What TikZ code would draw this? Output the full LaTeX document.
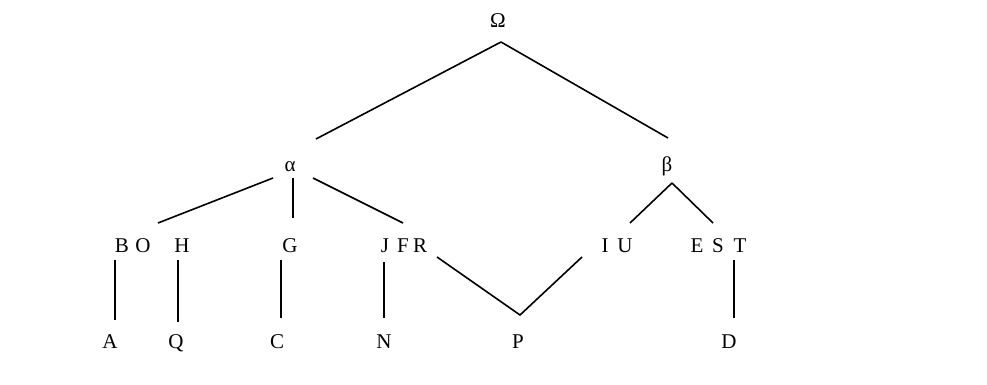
\documentclass[tikz,border=0pt]{standalone}
\usepackage{fontspec}
\setmainfont{Liberation Serif}
\usetikzlibrary{calc}

\tikzset{ms/.style={inner sep=0pt, anchor=base, font=\fontsize{21}{24}\selectfont}}

\begin{document}
\begin{tikzpicture}[x=1pt,y=-1pt,line width=1.6pt]
    \useasboundingbox (0,0) rectangle (987,385);
    % archetype and the two branches
    \node[ms] (Om) at (498,28) {Ω};
    \node[ms] (al) at (290,171) {α};
    \node[ms] (be) at (667,171) {β};
    % manuscripts, second level
    \node[ms] (B) at (122,252) {B};
    \node[ms] (O) at (143,252) {O};
    \node[ms] (H) at (182,252) {H};
    \node[ms] (G) at (290,252) {G};
    \node[ms] (J) at (385,252) {J};
    \node[ms] (F) at (403,252) {F};
    \node[ms] (R) at (420,252) {R};
    \node[ms] (I) at (605,252) {I};
    \node[ms] (U) at (625,252) {U};
    \node[ms] (E) at (697,252) {E};
    \node[ms] (S) at (718,252) {S};
    \node[ms] (T) at (740,252) {T};
    % copies, third level
    \node[ms] (A) at (110,348) {A};
    \node[ms] (Q) at (176,348) {Q};
    \node[ms] (C) at (277,348) {C};
    \node[ms] (N) at (384,348) {N};
    \node[ms] (P) at (518,348) {P};
    \node[ms] (D) at (729,348) {D};

    \draw ($(Om.base)+(3,14)$) -- ($(al.base)+(26,-32)$);
    \draw ($(Om.base)+(3,14)$) -- ($(be.base)+(1,-33)$);
    \draw ($(al.base)+(-17,7)$) -- ($(O.base)+(15,-29)$);
    \draw ($(al.base)+(3,7)$) -- ($(G.base)+(3,-34)$);
    \draw ($(al.base)+(23,7)$) -- ($(F.base)+(0,-29)$);
    \draw ($(be.base)+(5,12)$) -- ($(U.base)+(5,-29)$);
    \draw ($(be.base)+(5,12)$) -- ($(S.base)+(-5,-29)$);
    \draw ($(B.base)+(-7,8)$) -- ($(A.base)+(5,-28)$);
    \draw ($(H.base)+(-4,8)$) -- ($(Q.base)+(2,-26)$);
    \draw ($(G.base)+(-9,8)$) -- ($(C.base)+(4,-30)$);
    \draw ($(J.base)+(-1,10)$) -- ($(N.base)+(0,-30)$);
    \draw ($(R.base)+(17,5)$) -- ($(P.base)+(2,-33)$) -- ($(I.base)+(-23,5)$);
    \draw ($(T.base)+(-6,8)$) -- ($(D.base)+(5,-30)$);
\end{tikzpicture}
\end{document}
